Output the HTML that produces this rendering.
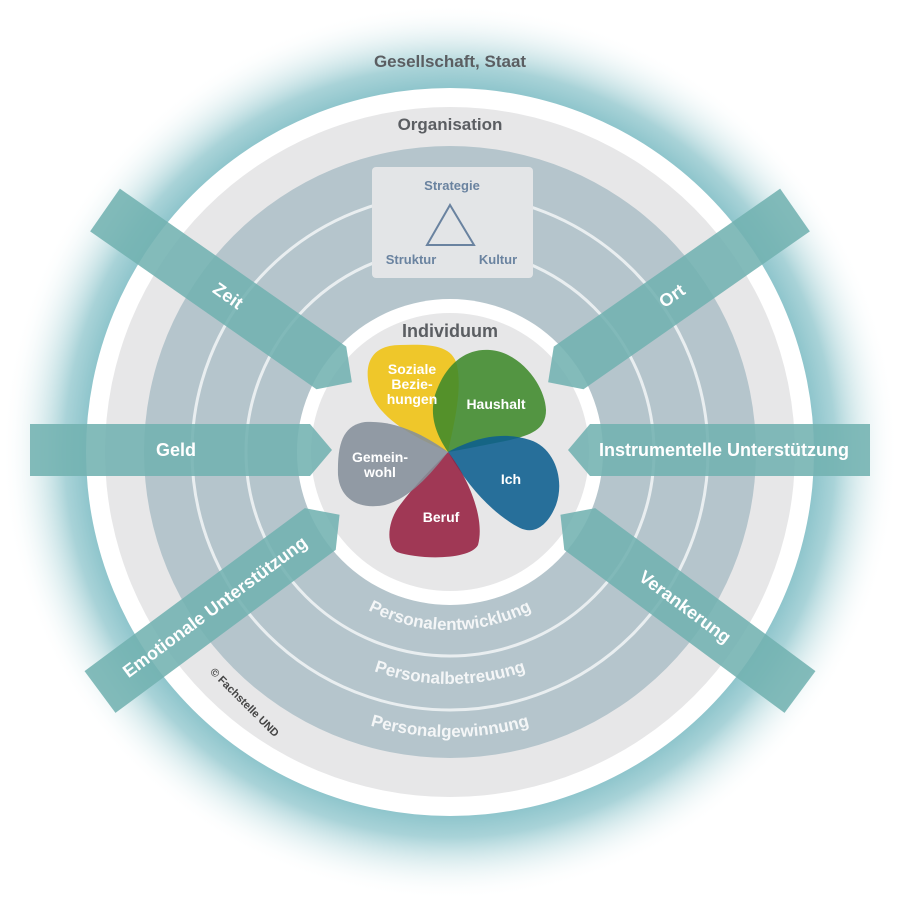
<!DOCTYPE html>
<html><head><meta charset="utf-8"><style>
html,body{margin:0;padding:0;background:#fff}
svg{display:block}
text{font-family:"Liberation Sans",Arial,sans-serif;font-weight:bold}
</style></head><body>
<svg width="900" height="900" viewBox="0 0 900 900" xmlns="http://www.w3.org/2000/svg">
<defs>
<radialGradient id="glow" cx="450" cy="452" r="448" gradientUnits="userSpaceOnUse">
<stop offset="0.78" stop-color="#7dbcc4"/>
<stop offset="0.86" stop-color="#a9d3d8"/>
<stop offset="1" stop-color="#ffffff" stop-opacity="0"/>
</radialGradient>
<path id="a1" d="M272,452 A178,178 0 0,0 628,452"/>
<path id="a2" d="M218,452 A232,232 0 0,0 682,452"/>
<path id="a3" d="M165,452 A285,285 0 0,0 735,452"/>
</defs>
<rect width="900" height="900" fill="#fff"/>
<circle cx="450" cy="452" r="448" fill="url(#glow)"/>
<circle cx="450" cy="452" r="364" fill="#ffffff"/>
<circle cx="450" cy="452" r="345" fill="#e7e7e8"/>
<circle cx="450" cy="452" r="306" fill="#b5c5cc"/>
<circle cx="450" cy="452" r="258" fill="none" stroke="#e9eef0" stroke-width="3"/>
<circle cx="450" cy="452" r="204" fill="none" stroke="#e9eef0" stroke-width="3"/>
<circle cx="450" cy="452" r="153" fill="#ffffff"/>
<circle cx="450" cy="452" r="139" fill="#e7e7e8"/>

<text x="450" y="67" text-anchor="middle" font-size="17" fill="#5b5e62">Gesellschaft, Staat</text>
<text x="450" y="130" text-anchor="middle" font-size="17" fill="#5b5e62">Organisation</text>

<rect x="372" y="167" width="161" height="111" rx="4" fill="#e3e5e7"/>
<text x="452" y="190" text-anchor="middle" font-size="13" fill="#6a83a0">Strategie</text>
<polygon points="427,245 450,205 474,245" fill="none" stroke="#6a83a0" stroke-width="2"/>
<text x="411" y="264" text-anchor="middle" font-size="13" fill="#6a83a0">Struktur</text>
<text x="498" y="264" text-anchor="middle" font-size="13" fill="#6a83a0">Kultur</text>

<text font-size="17" fill="#f4f6f7" text-anchor="middle"><textPath href="#a1" startOffset="50%">Personalentwicklung</textPath></text>
<text font-size="17" fill="#f4f6f7" text-anchor="middle"><textPath href="#a2" startOffset="50%">Personalbetreuung</textPath></text>
<text font-size="17" fill="#f4f6f7" text-anchor="middle"><textPath href="#a3" startOffset="50%">Personalgewinnung</textPath></text>

<text transform="translate(242,705) rotate(45)" text-anchor="middle" font-size="11" fill="#444">© Fachstelle UND</text>

<g fill="#72b2b0" fill-opacity="0.88">
<g transform="translate(105,210) rotate(34.9)"><polygon points="0,-26 276,-26 301,0 276,26 0,26"/><text x="150" y="6" text-anchor="middle" font-size="18" fill="#fff" fill-opacity="1">Zeit</text></g>
<g transform="translate(795,210) rotate(145.1)"><polygon points="0,-26 276,-26 301,0 276,26 0,26"/><text transform="translate(150,0) rotate(180)" y="6" text-anchor="middle" font-size="18" fill="#fff" fill-opacity="1">Ort</text></g>
<g transform="translate(30,450)"><polygon points="0,-26 280,-26 302,0 280,26 0,26"/><text x="146" y="6" text-anchor="middle" font-size="18" fill="#fff" fill-opacity="1">Geld</text></g>
<g transform="translate(870,450) rotate(180)"><polygon points="0,-26 280,-26 302,0 280,26 0,26"/><text transform="translate(146,0) rotate(180)" y="6" text-anchor="middle" font-size="18" fill="#fff" fill-opacity="1">Instrumentelle Unterstützung</text></g>
<g transform="translate(100,692) rotate(-36.5)"><polygon points="0,-26 274,-26 298,0 274,26 0,26"/><text x="143" y="6" text-anchor="middle" font-size="18" fill="#fff" fill-opacity="1">Emotionale Unterstützung</text></g>
<g transform="translate(800,692) rotate(216.5)"><polygon points="0,-26 274,-26 298,0 274,26 0,26"/><text transform="translate(143,0) rotate(180)" y="6" text-anchor="middle" font-size="18" fill="#fff" fill-opacity="1">Verankerung</text></g>
</g>

<text x="450" y="337" text-anchor="middle" font-size="18" fill="#5b5e62">Individuum</text>

<g fill-opacity="0.88">
<path fill="#f0c30f" d="M448,452 C420,440 378,420 370,390 C362,360 375,345 400,345 C430,344 452,345 457,365 C462,390 455,420 448,452 Z"/>
<path fill="#3f8a2a" d="M448,452 C440,440 428,420 435,395 C445,365 465,348 490,350 C520,352 545,385 546,410 C546,430 530,435 510,440 C480,446 460,450 448,452 Z"/>
<path fill="#0d5f8e" d="M448,452 C470,440 500,430 530,440 C555,448 565,480 556,505 C548,525 535,535 520,528 C495,515 470,490 448,452 Z"/>
<path fill="#962040" d="M448,452 C470,480 485,520 478,545 C470,560 420,560 397,552 C385,545 388,520 400,505 C415,485 432,468 448,452 Z"/>
<path fill="#85909a" d="M448,452 C430,475 410,498 385,505 C360,510 340,500 338,475 C337,440 345,425 365,422 C395,420 425,435 448,452 Z"/>
</g>
<g font-size="14" fill="#fff" text-anchor="middle">
<text x="412" y="374">Soziale</text>
<text x="412" y="389">Bezie-</text>
<text x="412" y="404">hungen</text>
<text x="496" y="409">Haushalt</text>
<text x="511" y="484">Ich</text>
<text x="380" y="462">Gemein-</text>
<text x="380" y="477">wohl</text>
<text x="441" y="522">Beruf</text>
</g>
</svg>
</body></html>
